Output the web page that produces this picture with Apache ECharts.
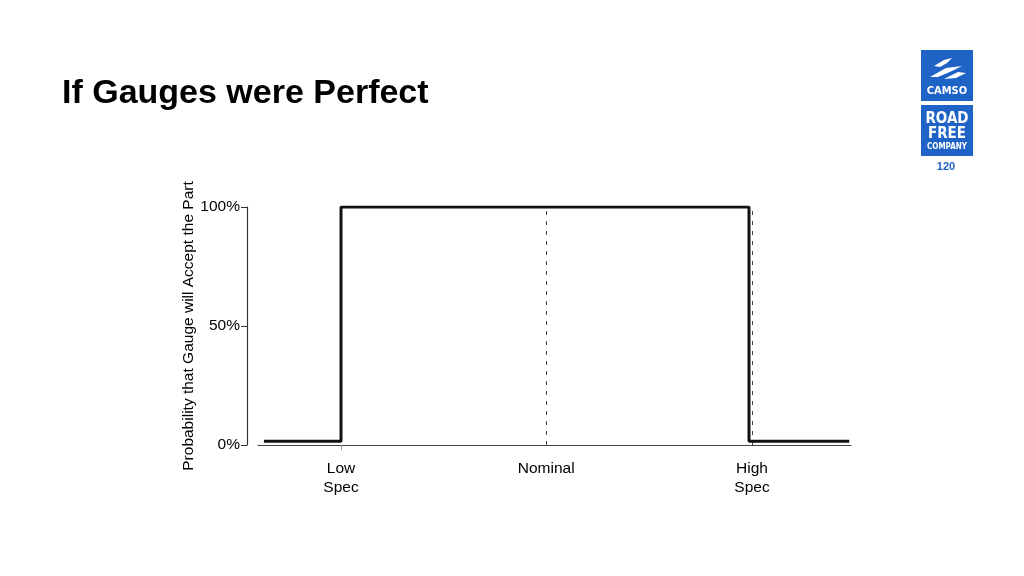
<!DOCTYPE html>
<html>
<head>
<meta charset="utf-8">
<script src="https://cdn.jsdelivr.net/npm/echarts@6/dist/echarts.min.js"></script>
<style>
html,body{margin:0;padding:0;background:#fff;}
#c{width:1024px;height:576px;}
</style>
</head>
<body>
<div id="c"></div>
<script>
// Data (x in spec-scale units 0..100, y in percent)
var specPositions = [14, 48.6, 83.3];
var specLabels = ['Low\nSpec', 'Nominal', 'High\nSpec'];
var curveX = [1, 14, 14, 82.8, 82.8, 99.7];
var curveY = [1.6, 1.6, 100, 100, 1.6, 1.6];
var yTicks = [0, 50, 100];
var yTickLabels = ['0%', '50%', '100%'];
var dashedAt = [48.6, 83.3];

var chart = echarts.init(document.getElementById('c'), null, {renderer: 'canvas'});
var font = '"Liberation Sans", Arial, sans-serif';

var option = {
  animation: false,
  backgroundColor: '#fff',
  title: {
    text: 'If Gauges were Perfect',
    left: 57, top: 72,
    textStyle: {fontFamily: font, fontSize: 34, fontWeight: 'bold', color: '#000'}
  },
  grid: {left: 258, right: 173, top: 207, bottom: 131, containLabel: false},
  xAxis: {
    type: 'value', min: 0, max: 100,
    splitLine: {show: false},
    axisLine: {show: true, onZero: false, lineStyle: {color: '#444', width: 1.2}},
    axisTick: {show: true, customValues: [specPositions[0]], length: 5, inside: false, lineStyle: {color: '#999'}},
    axisLabel: {
      customValues: specPositions,
      margin: 14,
      fontFamily: font, fontSize: 15.5, color: '#000', lineHeight: 19,
      formatter: function (v) {
        var i = specPositions.indexOf(v);
        return i >= 0 ? specLabels[i] : '';
      }
    }
  },
  yAxis: {
    type: 'value', min: 0, max: 100, interval: 50,
    offset: 11,
    name: 'Probability that Gauge will Accept the Part',
    nameLocation: 'middle', nameGap: 50, nameMoveOverlap: false,
    nameTextStyle: {fontFamily: font, fontSize: 15.5, color: '#000'},
    splitLine: {show: false},
    axisLine: {show: true, onZero: false, lineStyle: {color: '#333', width: 1.2}},
    axisTick: {show: true, length: 6, lineStyle: {color: '#333'}},
    axisLabel: {
      margin: 7, fontFamily: font, fontSize: 15.5, color: '#000',
      formatter: function (v) { var i = yTicks.indexOf(v); return i >= 0 ? yTickLabels[i] : ''; }
    }
  },
  series: [
    {
      type: 'line',
      data: curveX.map(function (x, i) { return [x, curveY[i]]; }),
      symbol: 'none',
      lineStyle: {color: '#111', width: 3},
      z: 5,
      markLine: {
        silent: true, symbol: 'none',
        lineStyle: {color: '#444', type: [4, 6], width: 1},
        label: {show: false},
        data: dashedAt.map(function (x) { return {xAxis: x}; })
      }
    }
  ],
  graphic: [
    {type: 'rect', shape: {x: 921, y: 50, width: 52, height: 51}, style: {fill: '#1f63c6'}},
    {type: 'polygon', shape: {points: [[934,66],[944,60],[952,58],[947,63],[940,67]]}, style: {fill: '#fff'}},
    {type: 'polygon', shape: {points: [[930,77],[946,68],[962,66],[952,71],[938,77]]}, style: {fill: '#fff'}},
    {type: 'polygon', shape: {points: [[944,79],[958,72],[966,73],[956,78]]}, style: {fill: '#fff'}},
    {type: 'text', style: {text: 'CAMSO', x: 947, y: 91, align: 'center', verticalAlign: 'middle', fill: '#fff', font: 'bold 11px "Liberation Sans Narrow", "DejaVu Sans Condensed", sans-serif'}},
    {type: 'rect', shape: {x: 921, y: 105, width: 52, height: 51}, style: {fill: '#1f63c6'}},
    {type: 'text', style: {text: 'ROAD', x: 947, y: 119, align: 'center', verticalAlign: 'middle', fill: '#fff', font: 'bold 15px "Liberation Sans Narrow", "DejaVu Sans Condensed", sans-serif'}},
    {type: 'text', style: {text: 'FREE', x: 947, y: 134, align: 'center', verticalAlign: 'middle', fill: '#fff', font: 'bold 15px "Liberation Sans Narrow", "DejaVu Sans Condensed", sans-serif'}},
    {type: 'text', style: {text: 'COMPANY', x: 947, y: 147, align: 'center', verticalAlign: 'middle', fill: '#fff', font: 'bold 8px "Liberation Sans Narrow", "DejaVu Sans Condensed", sans-serif'}},
    {type: 'text', style: {text: '120', x: 946, y: 167, align: 'center', verticalAlign: 'middle', fill: '#1f63c6', font: 'bold 11px "Liberation Sans", Arial, sans-serif'}}
  ]
};
chart.setOption(option);
</script>
</body>
</html>
